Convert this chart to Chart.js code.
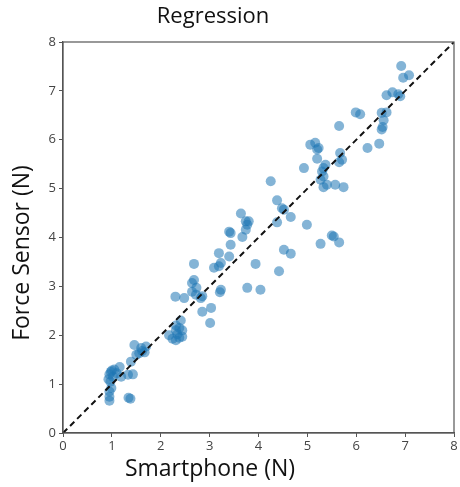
<!DOCTYPE html>
<html>
<head>
<meta charset="utf-8">
<script src="https://cdn.jsdelivr.net/npm/chart.js@4.4.1/dist/chart.umd.min.js"></script>
<style>
  html, body { margin: 0; padding: 0; background: #fff; }
  #wrap { width: 460px; height: 487px; }
</style>
</head>
<body>
<div id="wrap"><canvas id="chart" width="460" height="487"></canvas></div>
<script>
// smartphone readings (x) and force sensor readings (y)
const smartphoneN = [
    0.95, 0.95, 0.99, 0.95, 1.34, 1.38,
    0.93, 0.95, 0.98, 1.00, 1.02, 1.05, 0.97, 1.10, 1.16, 1.19, 1.33, 1.43, 1.39,
    1.46, 1.60, 1.70, 1.56, 1.67, 1.50, 1.62,
    2.17, 2.31, 2.38, 2.44, 2.31, 2.38, 2.44, 2.24, 2.41, 2.31, 2.30, 2.48, 2.34,
    2.64, 2.73, 2.64, 2.72, 2.82, 2.68, 2.85, 2.85, 3.03, 3.01, 3.23, 3.21,
    2.68, 3.09, 3.19, 3.23, 3.19, 3.40, 3.43, 3.40, 3.43, 3.67, 3.64, 3.74, 3.77, 3.80, 3.74,
    3.94, 3.77, 4.04,
    4.25, 4.38, 4.48, 4.52, 4.38, 4.66, 4.52, 4.66, 4.42, 4.99, 5.27, 4.93,
    5.06, 5.16, 5.23, 5.20, 5.20, 5.37, 5.33, 5.30, 5.27, 5.33, 5.33, 5.40, 5.57, 5.74,
    5.50, 5.54, 5.65, 5.65, 5.67, 5.71, 5.65,
    5.99, 6.08, 6.23, 6.47, 6.52, 6.62, 6.56, 6.54, 6.52,
    6.62, 6.74, 6.86, 6.90, 6.92, 6.96, 7.08
];
const forceSensorN = [
    0.66, 0.74, 0.92, 0.85, 0.72, 0.70,
    1.10, 1.20, 1.25, 1.28, 1.15, 1.30, 1.05, 1.22, 1.35, 1.15, 1.19, 1.20, 1.46,
    1.80, 1.74, 1.77, 1.63, 1.65, 1.60, 1.68,
    2.00, 2.10, 2.15, 2.10, 1.90, 1.95, 1.97, 1.93, 2.30, 2.20, 2.79, 2.76, 2.02,
    3.07, 2.97, 2.89, 2.83, 2.76, 3.13, 2.80, 2.48, 2.56, 2.25, 2.93, 2.88,
    3.46, 3.38, 3.41, 3.48, 3.68, 3.61, 3.85, 4.12, 4.09, 4.01, 4.49, 4.33, 4.26, 4.33, 4.16,
    3.46, 2.97, 2.93,
    5.15, 4.76, 4.60, 4.57, 4.31, 4.42, 3.75, 3.67, 3.31, 4.26, 3.87, 5.42,
    5.90, 5.94, 5.83, 5.80, 5.61, 5.49, 5.42, 5.35, 5.18, 5.25, 5.03, 5.08, 5.08, 5.03,
    4.04, 4.02, 3.90, 6.28, 5.73, 5.59, 5.54,
    6.56, 6.52, 5.83, 5.92, 6.55, 6.56, 6.40, 6.26, 6.21,
    6.91, 6.97, 6.93, 6.89, 7.51, 7.27, 7.32
];
// identity line y = x
const identityLine = [0, 8];
const tickValues = [0, 1, 2, 3, 4, 5, 6, 7, 8];

const chartTitle = 'Regression';
const xTitle = 'Smartphone (N)';
const yTitle = 'Force Sensor (N)';

const points = smartphoneN.map((x, i) => ({ x: x, y: forceSensorN[i] }));
const linePoints = identityLine.map(v => ({ x: v, y: v }));

// frame on top/right plus the titles, placed like the original figure
const decorations = {
    id: 'decorations',
    afterDraw(chart) {
        const ctx = chart.ctx;
        const a = chart.chartArea;
        ctx.save();
        ctx.strokeStyle = '#555';
        ctx.lineWidth = 1.2;
        ctx.strokeRect(a.left, a.top, a.right - a.left, a.bottom - a.top);

        ctx.fillStyle = '#111';
        ctx.textAlign = 'center';
        ctx.textBaseline = 'middle';
        ctx.font = '22px "Open Sans", sans-serif';
        ctx.fillText(chartTitle, 213, 17);

        ctx.font = '23px "Open Sans", sans-serif';
        ctx.fillText(xTitle, 210, 469);

        ctx.translate(22, 253);
        ctx.rotate(-Math.PI / 2);
        ctx.fillText(yTitle, 0, 0);
        ctx.restore();
    }
};

const tickFont = { family: '"Open Sans", sans-serif', size: 13 };

new Chart(document.getElementById('chart').getContext('2d'), {
    type: 'scatter',
    data: {
        datasets: [
            {
                type: 'line',
                data: linePoints,
                borderColor: '#111',
                borderWidth: 2,
                borderDash: [6, 4],
                pointRadius: 0,
                fill: false,
                order: 0
            },
            {
                data: points,
                backgroundColor: 'rgba(31, 119, 180, 0.55)',
                borderColor: 'rgba(31, 119, 180, 0)',
                pointRadius: 5,
                order: 1
            }
        ]
    },
    options: {
        responsive: false,
        animation: false,
        layout: { padding: { top: 42, right: 4, left: 0, bottom: 0 } },
        plugins: {
            legend: { display: false },
            tooltip: { enabled: false }
        },
        scales: {
            x: {
                type: 'linear',
                min: 0,
                max: 8,
                afterBuildTicks: scale => { scale.ticks = tickValues.map(v => ({ value: v })); },
                afterFit: scale => { scale.height = 54; },
                grid: { drawOnChartArea: false, drawTicks: true, tickLength: 4, color: '#555' },
                border: { color: '#555', width: 1.2 },
                ticks: { color: '#444', font: tickFont, padding: 1 }
            },
            y: {
                type: 'linear',
                min: 0,
                max: 8,
                afterBuildTicks: scale => { scale.ticks = tickValues.map(v => ({ value: v })); },
                afterFit: scale => { scale.width = 63; },
                grid: { drawOnChartArea: false, drawTicks: true, tickLength: 4, color: '#555' },
                border: { color: '#555', width: 1.2 },
                ticks: { color: '#444', font: tickFont, padding: 3 }
            }
        }
    },
    plugins: [decorations]
});
</script>
</body>
</html>
